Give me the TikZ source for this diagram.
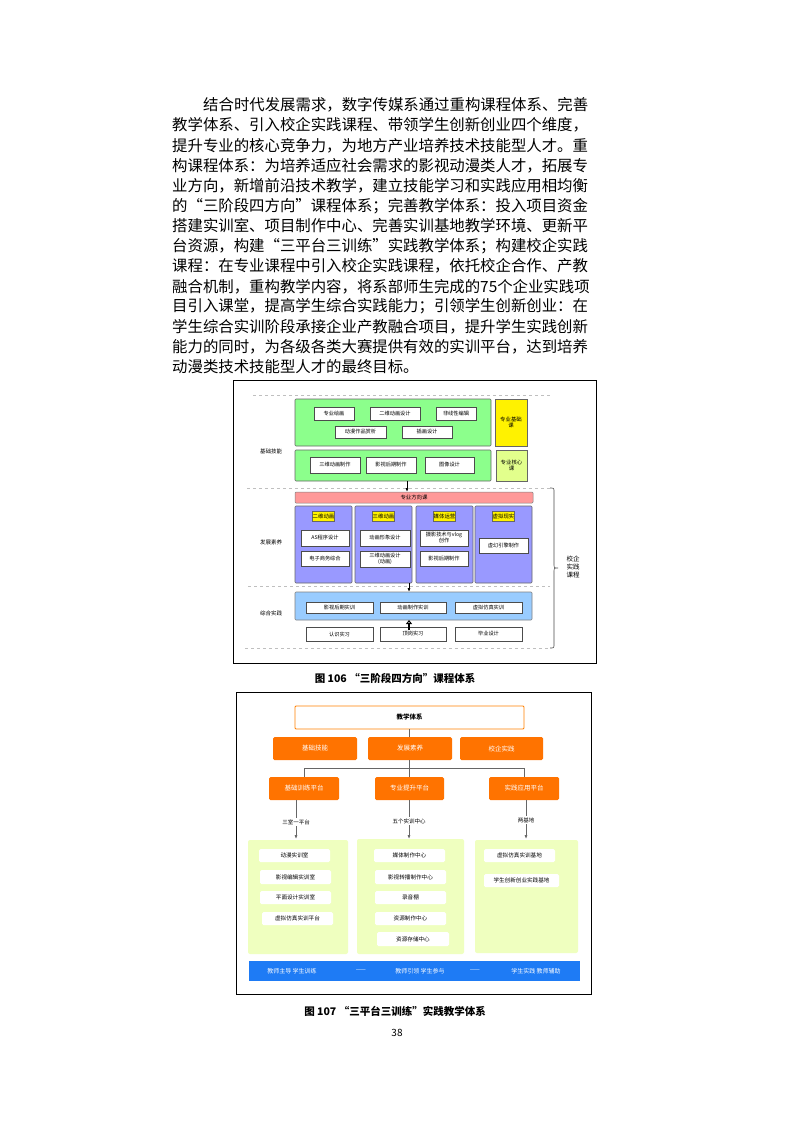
\documentclass[tikz,border=0pt]{standalone}
\usepackage{fontspec}
\setmainfont{Noto Sans CJK SC}
\usetikzlibrary{arrows.meta,calc}
\definecolor{skyb}{HTML}{99CCFF}
\definecolor{purp}{HTML}{9999FF}
\definecolor{barb}{HTML}{1E7BF5}
\newcommand\bxx[6]{\node[#1,minimum width=#4-#2,minimum height=#5-#3] at ({(#2+#4)/2},{(#3+#5)/2}) {#6};}
\tikzset{
 para/.style={anchor=west,inner sep=0,font=\fontsize{15.4}{16}\selectfont},
 sb/.style={draw=black!70,fill=white,line width=0.6pt,inner sep=0,font=\fontsize{5.2}{6}\selectfont,align=center},
 gb/.style={draw=black!60,fill=green!45,rounded corners=1pt,line width=0.6pt},
 yb/.style={draw=black!60,fill=yellow,inner sep=0,font=\fontsize{5.4}{6.5}\selectfont,align=center,line width=0.5pt},
 pb/.style={draw=black!60,fill=purp,rounded corners=1pt,line width=0.6pt},
 dl/.style={dashed,black!25,line width=0.6pt},
 lab/.style={font=\fontsize{5.5}{6.5}\selectfont,inner sep=0},
 ob/.style={fill=orange!90!red,text=white,rounded corners=1.5pt,inner sep=0,font=\fontsize{6.5}{7}\selectfont},
 gp/.style={fill=lime!25,rounded corners=2pt},
 wi/.style={fill=white,rounded corners=1.5pt,inner sep=0,font=\fontsize{5.6}{6}\selectfont},
 ln/.style={black!60,line width=0.7pt},
}
\begin{document}
\begin{tikzpicture}[x=1pt,y=-1pt]
\useasboundingbox[fill=white] (0,0) rectangle (794,1123);
\foreach \t [count=\i from 0] in {教学体系、引入校企实践课程、带领学生创新创业四个维度，,提升专业的核心竞争力，为地方产业培养技术技能型人才。重,构课程体系：为培养适应社会需求的影视动漫类人才，拓展专,业方向，新增前沿技术教学，建立技能学习和实践应用相均衡,的“三阶段四方向”课程体系；完善教学体系：投入项目资金,搭建实训室、项目制作中心、完善实训基地教学环境、更新平,台资源，构建“三平台三训练”实践教学体系；构建校企实践,课程：在专业课程中引入校企实践课程，依托校企合作、产教,融合机制，重构教学内容，将系部师生完成的75个企业实践项,目引入课堂，提高学生综合实践能力；引领学生创新创业：在,学生综合实训阶段承接企业产教融合项目，提升学生实践创新,能力的同时，为各级各类大赛提供有效的实训平台，达到培养,动漫类技术技能型人才的最终目标。}
  \node[para] (p\i) at (172,{125.2+20.15*\i}) {\t};
\node[para] (p0a) at (203,105) {结合时代发展需求，数字传媒系通过重构课程体系、完善};
% ---------- figure 106
\draw[line width=0.8pt] (233,380) rectangle (596,663);
\draw[dl] (253,395) -- (550,395);
\draw[dl] (247,488) -- (550,488);
\draw[dl] (248,586) -- (550,586);
\draw[dl] (245,648) -- (550,648);
\bxx{gb}{295}{399}{491}{446}{}
\bxx{sb}{314}{407}{354}{420}{专业绘画}
\bxx{sb}{370}{407}{420}{420}{二维动画设计}
\bxx{sb}{436}{407}{476}{420}{非线性编辑}
\bxx{sb}{335}{426}{386}{438}{动漫作品赏析}
\bxx{sb}{402}{426}{452}{438}{插画设计}
\bxx{yb}{495}{399}{527}{446}{专业基础\\课}
\bxx{gb}{295}{450}{491}{481}{}
\bxx{sb}{310}{457}{360}{473}{三维动画制作}
\bxx{sb}{366}{457}{416}{473}{影视后期制作}
\bxx{sb}{425}{457}{474}{473}{图像设计}
\bxx{yb,fill=lime!45}{496}{450}{527}{481}{专业核心\\课}
\node[lab] (l1) at (271,451) {基础技能};
\node[lab] (l2) at (271,542) {发展素养};
\node[lab] (l3) at (271,613) {综合实践};
\coordinate (a1) at (407,481); \coordinate (a2) at (407,492);
\draw[-{Latex[length=4pt]},line width=0.7pt] (a1) -- (a2);
\bxx{yb,fill=red!40,draw=black!50,rounded corners=1pt}{295}{492}{533}{503}{专业方向课}
\foreach \xa/\xb in {295/352,355/412,416/473,475/532} {\bxx{pb}{\xa}{506}{\xb}{583}{}}
\foreach \c/\t in {323.5/二维动画,383.5/三维动画,444.5/媒体运营,503.5/虚拟现实} {\bxx{yb}{\c-19}{511}{\c+19}{521}{\t}}
\bxx{sb}{301}{530}{349}{546}{AS程序设计}
\bxx{sb}{301}{551}{349}{566}{电子商务综合}
\bxx{sb}{360}{530}{410}{546}{动画形象设计}
\bxx{sb}{360}{551}{410}{567}{三维动画设计\\(动画)}
\bxx{sb}{420}{530}{468}{546}{摄影技术与vlog\\创作}
\bxx{sb}{420}{551}{468}{566}{影视后期制作}
\bxx{sb}{479}{538}{528}{553}{虚幻引擎制作}
\coordinate (b1) at (409,583); \coordinate (b2) at (409,592);
\draw[-{Latex[length=4pt]},line width=0.7pt] (b1) -- (b2);
\bxx{gb,fill=skyb,draw=black!50}{295}{592}{532}{620}{}
\bxx{sb}{306}{602}{373}{613}{影视后期实训}
\bxx{sb}{380}{602}{446}{613}{动画制作实训}
\bxx{sb}{455}{602}{522}{613}{虚拟仿真实训}
\bxx{sb}{306}{627}{373}{641}{认识实习}
\bxx{sb}{380}{627}{446}{641}{顶岗实习}
\bxx{sb}{455}{627}{522}{641}{毕业设计}
\coordinate (c1) at (409,630); \coordinate (c2) at (409,620);
\draw[-{Triangle[open,length=4pt,width=6pt]},line width=1.2pt] (c1) -- (c2);
\draw[black!70,line width=0.6pt] (550,488) .. controls (554,488) .. (554,492) -- (554,564) .. controls (554,568) .. (558,568) .. controls (554,568) .. (554,572) -- (554,644) .. controls (554,648) .. (550,648);
\node[lab,font=\fontsize{6.5}{8}\selectfont,align=center] (qx) at (573,567) {校企\\实践\\课程};
\node[font=\bfseries\fontsize{10.5}{12}\selectfont] (cap1) at (395,678) {图 106 “三阶段四方向”课程体系};
% ---------- figure 107
\draw[line width=0.8pt] (236,692) rectangle (591,994);
\bxx{draw=orange,fill=white,line width=0.8pt,rounded corners=1pt,inner sep=0,font=\bfseries\fontsize{6.5}{7}\selectfont}{295}{706}{524}{729}{教学体系}
\coordinate (t1) at (409,729); \coordinate (t2) at (409,737);
\draw[ln] (t1) -- (t2);
\bxx{ob}{273}{737}{357}{760}{基础技能}
\bxx{ob}{368}{737}{452}{760}{发展素养}
\bxx{ob}{460}{737}{543}{760}{校企实践}
\draw[ln] (409,760) -- (409,777);
\draw[ln] (304,777) -- (304,768) -- (524,768) -- (524,777);
\bxx{ob}{269}{777}{339}{800}{基础训练平台}
\bxx{ob}{375}{777}{444}{800}{专业提升平台}
\bxx{ob}{489}{777}{559}{800}{实践应用平台}
\bxx{gp}{248}{840}{348}{954}{}
\bxx{gp}{357}{839}{464}{954}{}
\bxx{gp}{475}{840}{578}{953}{}
\foreach \x/\y/\t in {296/822/三室一平台,409/821/五个实训中心,526/820/两基地} {
  \draw[ln,-{Latex[length=4pt]}] (\x,800) -- (\x,839);
  \node[lab,fill=white,inner sep=1pt] at (\x,\y) {\t};}
\bxx{wi}{259}{849}{330}{862}{动漫实训室}
\bxx{wi}{260}{870}{331}{884}{影视编辑实训室}
\bxx{wi}{260}{891}{331}{904}{平面设计实训室}
\bxx{wi}{262}{912}{333}{925}{虚拟仿真实训平台}
\bxx{wi}{374}{849}{445}{862}{媒体制作中心}
\bxx{wi}{375}{870}{446}{884}{影视转播制作中心}
\bxx{wi}{375}{891}{446}{904}{录音棚}
\bxx{wi}{375}{912}{446}{925}{资源制作中心}
\bxx{wi}{377}{932}{449}{946}{资源存储中心}
\bxx{wi}{484}{849}{555}{862}{虚拟仿真实训基地}
\bxx{wi}{484}{874}{559}{887}{学生创新创业实践基地}
\bxx{fill=barb,inner sep=0}{249}{961}{580}{981}{}
\foreach \x/\t in {292/教师主导\ 学生训练,361/——,420/教师引领\ 学生参与,475/——,536/学生实践\ 教师辅助}
  \node[lab,text=white,font=\fontsize{6}{6.5}\selectfont] at (\x,971) {\t};
\node[font=\bfseries\fontsize{10.5}{12}\selectfont] (cap2) at (395,1011) {图 107 “三平台三训练”实践教学体系};
\node[font=\fontsize{10}{12}\selectfont] (pg) at (397,1033) {38};
\end{tikzpicture}
\end{document}
